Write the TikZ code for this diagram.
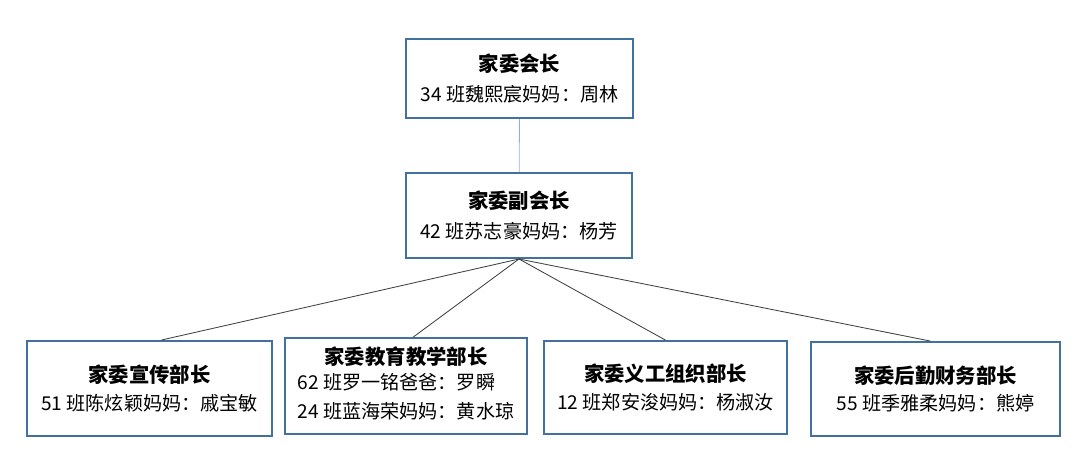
\documentclass[tikz,border=0pt]{standalone}
\usepackage{fontspec}
\setmainfont{Noto Sans CJK SC}
\usetikzlibrary{positioning}

\definecolor{boxblue}{RGB}{65,113,156}
\definecolor{linkblue}{RGB}{150,176,212}
\definecolor{linkgray}{RGB}{64,64,64}

\newcommand{\roletitle}[1]{{\fontsize{14.5}{17}\selectfont\bfseries #1}}

\begin{document}
\begin{tikzpicture}[font=\fontsize{13.6}{16}\selectfont,
role/.style={draw=boxblue, line width=1.3pt, fill=white, align=center, inner sep=0pt},
link/.style={draw=linkgray, line width=0.6pt}]
    \useasboundingbox (0,0) rectangle (27,-11.7);
    \node[role, minimum width=5.675cm, minimum height=1.975cm] (CHAIR) at (12.99,-1.96)
        {\roletitle{家委会长}\\[0.2cm] 34 班魏熙宸妈妈：周林};
    \node[role, minimum width=5.65cm, minimum height=2.125cm] (VICE) at (12.975,-5.39)
        {\roletitle{家委副会长}\\[0.2cm] 42 班苏志豪妈妈：杨芳};
    \node[role, minimum width=6.125cm, minimum height=2.375cm] (PUBLICITY) at (3.74,-9.71)
        {\roletitle{家委宣传部长}\\[0.12cm] 51 班陈炫颖妈妈：戚宝敏};
    \node[role, minimum width=6.05cm, minimum height=2.4cm] (TEACHING) at (10.15,-9.65)
        {\roletitle{家委教育教学部长}\\[0.12cm]
         \begin{tabular}{@{}l@{}}62 班罗一铭爸爸：罗瞬\\[0.16cm] 24 班蓝海荣妈妈：黄水琼\end{tabular}};
    \node[role, minimum width=6.075cm, minimum height=2.325cm] (VOLUNTEER) at (16.64,-9.69)
        {\roletitle{家委义工组织部长}\\[0.12cm] 12 班郑安浚妈妈：杨淑汝};
    \node[role, minimum width=6.225cm, minimum height=2.35cm] (LOGISTICS) at (23.39,-9.725)
        {\roletitle{家委后勤财务部长}\\[0.12cm] 55 班季雅柔妈妈：熊婷};
    \draw[draw=linkblue, line width=0.6pt] (CHAIR) -- (VICE);
    \path[link]
        (VICE.south) edge ([xshift=0.3cm]PUBLICITY.north)
                     edge ([xshift=0.18cm]TEACHING.north)
                     edge (VOLUNTEER.north)
                     edge ([xshift=-0.13cm]LOGISTICS.north);
\end{tikzpicture}
\end{document}
